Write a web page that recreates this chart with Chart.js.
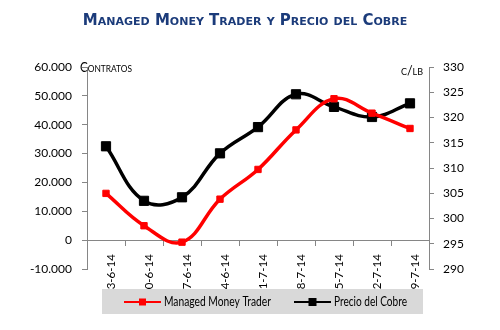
<!DOCTYPE html>
<html>
<head>
<meta charset="utf-8">
<script src="https://cdn.jsdelivr.net/npm/chart.js@4"></script>
<style>
  html, body { margin: 0; padding: 0; background: #fff; }
  #wrap { width: 500px; height: 330px; }
</style>
</head>
<body>
<div id="wrap"><canvas id="chart" width="500" height="330"></canvas></div>
<script>
// chart data
const titleText = 'Managed Money Trader y Precio del Cobre';
const dates = ['3-6-14', '0-6-14', '7-6-14', '4-6-14', '1-7-14', '8-7-14', '5-7-14', '2-7-14', '9-7-14'];
const managedMoney = [16200, 5000, -700, 14200, 24500, 38200, 49000, 44000, 38700];
const copperPrice = [314.3, 303.5, 304.2, 312.9, 318.1, 324.6, 322.1, 320.1, 322.8];
const leftMin = -10000, leftMax = 60000, leftStep = 10000;
const rightMin = 290, rightMax = 330, rightStep = 5;
const leftTitle = 'Contratos';
const rightTitle = 'c/lb';

const AXIS_GRAY = '#868686';
const FONT = 'Lato';

// number like 60.000
function dotThousands(v) {
  return String(v).replace(/\B(?=(\d{3})+(?!\d))/g, '.');
}

// title, axis captions and the grey legend box
const extras = {
  id: 'extras',
  afterDraw(chart) {
    const ctx = chart.ctx;
    const area = chart.chartArea;
    ctx.save();

    // title
    ctx.fillStyle = '#1b3b7a';
    ctx.font = 'bold 15px "DejaVu Sans"';
    ctx.fontVariantCaps = 'small-caps';
    ctx.textAlign = 'center';
    ctx.textBaseline = 'alphabetic';
    ctx.fillText(titleText, 245, 25);

    // axis captions (font first, since setting font resets the caps variant)
    ctx.fillStyle = '#000';
    ctx.font = '12.5px ' + FONT;
    ctx.fontVariantCaps = 'small-caps';
    ctx.textBaseline = 'middle';
    ctx.textAlign = 'left';
    ctx.fillText(leftTitle, 80, area.top + 1, 52);
    ctx.textAlign = 'right';
    ctx.fillText(rightTitle, 423, area.top + 4, 26);
    ctx.fontVariantCaps = 'normal';

    // legend
    ctx.fillStyle = '#d9d9d9';
    ctx.fillRect(102, 289, 321, 25);
    const items = [
      { ds: chart.data.datasets[0], x: 124, size: 7, w: 107 },
      { ds: chart.data.datasets[1], x: 294, size: 8, w: 73 }
    ];
    const ly = 302;
    items.forEach(it => {
      ctx.strokeStyle = it.ds.borderColor;
      ctx.lineWidth = 2;
      ctx.beginPath();
      ctx.moveTo(it.x, ly);
      ctx.lineTo(it.x + 37, ly);
      ctx.stroke();
      ctx.fillStyle = it.ds.borderColor;
      ctx.fillRect(it.x + 18.5 - it.size / 2, ly - it.size / 2, it.size, it.size);
      ctx.fillStyle = '#000';
      ctx.font = '13px ' + FONT;
      ctx.textAlign = 'left';
      ctx.textBaseline = 'middle';
      ctx.fillText(it.ds.label, it.x + 40, ly, it.w);
    });
    ctx.restore();
  }
};

const ctx = document.getElementById('chart').getContext('2d');
new Chart(ctx, {
  type: 'line',
  data: {
    labels: dates,
    datasets: [{
      label: 'Managed Money Trader',
      data: managedMoney,
      yAxisID: 'y',
      borderColor: '#ff0000',
      backgroundColor: '#ff0000',
      borderWidth: 3.5,
      tension: 0.4,
      pointStyle: 'rect',
      pointRadius: 4.5,
      pointBorderWidth: 1,
      pointBackgroundColor: '#ff0000'
    }, {
      label: 'Precio del Cobre',
      data: copperPrice,
      yAxisID: 'y1',
      borderColor: '#000000',
      backgroundColor: '#000000',
      borderWidth: 3.5,
      tension: 0.4,
      pointStyle: 'rect',
      pointRadius: 6.5,
      pointBorderWidth: 1,
      pointBackgroundColor: '#000000'
    }]
  },
  options: {
    responsive: false,
    animation: false,
    layout: { padding: { top: 67, bottom: 61, left: 0, right: 0 } },
    plugins: {
      legend: { display: false },
      title: { display: false },
      tooltip: { enabled: false }
    },
    scales: {
      x: {
        type: 'category',
        position: { y: 0 },
        offset: true,
        grid: { display: true, offset: true, drawOnChartArea: false, drawTicks: true, tickLength: 5, color: AXIS_GRAY },
        border: { display: true, color: AXIS_GRAY, width: 1 },
        ticks: {
          autoSkip: false, minRotation: 90, maxRotation: 90, padding: 9, labelOffset: 5,
          color: '#000', font: { family: FONT, size: 11.5 }
        }
      },
      y: {
        position: 'left',
        min: leftMin,
        max: leftMax,
        afterFit(scale) { scale.width = 87; },
        grid: { drawOnChartArea: false, drawTicks: true, tickLength: 5, color: AXIS_GRAY },
        border: { display: true, color: AXIS_GRAY, width: 1 },
        ticks: {
          stepSize: leftStep, padding: 10, color: '#000',
          font: { family: FONT, size: 12 },
          callback: v => dotThousands(v)
        }
      },
      y1: {
        position: 'right',
        min: rightMin,
        max: rightMax,
        afterFit(scale) { scale.width = 71; },
        grid: { drawOnChartArea: false, drawTicks: true, tickLength: 5, color: AXIS_GRAY },
        border: { display: true, color: AXIS_GRAY, width: 1 },
        ticks: {
          stepSize: rightStep, padding: 9, color: '#000',
          font: { family: FONT, size: 12 }
        }
      }
    }
  },
  plugins: [extras]
});
</script>
</body>
</html>
